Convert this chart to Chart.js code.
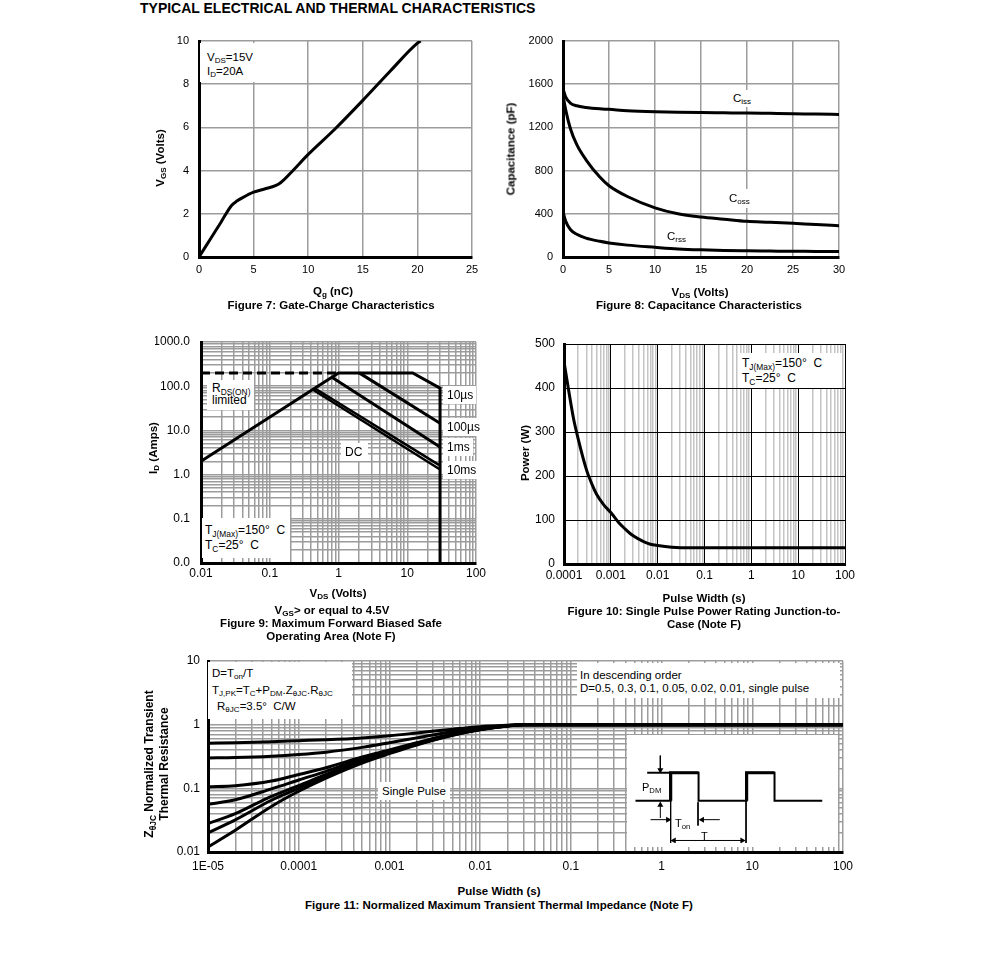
<!DOCTYPE html>
<html>
<head>
<meta charset="utf-8">
<script src="https://cdn.jsdelivr.net/npm/chart.js@4.4.1/dist/chart.umd.min.js"></script>
<style>
  body { margin: 0; background: #fff; width: 991px; height: 977px; position: relative; overflow: hidden;
         font-family: 'Liberation Sans', Arial, sans-serif; color: #000; }
  canvas { position: absolute; }
  .t { position: absolute; white-space: nowrap; transform: translate(-50%, -50%); font-weight: bold;
       font-size: 11.5px; line-height: 13px; text-align: center; }
  .rot { transform: translate(-50%, -50%) rotate(-90deg); }
  .box { position: absolute; background: #fff; white-space: nowrap; font-size: 12px; }
  sub { font-size: 0.7em; vertical-align: -0.3em; line-height: 0; }
</style>
</head>
<body>
<div style="position:absolute;left:140px;top:0;font-weight:bold;font-size:14px;line-height:16px">TYPICAL ELECTRICAL AND THERMAL CHARACTERISTICS</div>

<canvas id="fig7"></canvas>
<canvas id="fig8"></canvas>
<canvas id="fig9"></canvas>
<canvas id="fig10"></canvas>
<canvas id="fig11"></canvas>
<canvas id="inset" style="background:#fff"></canvas>

<!-- figure 7 -->
<div class="box" style="left:200px;top:43px;padding:7px 6px 4px 7px;line-height:14px;font-size:11.5px">V<sub>DS</sub>=15V<br>I<sub>D</sub>=20A</div>
<div class="t" style="left:333px;top:291px">Q<sub>g</sub> (nC)</div>
<div class="t" style="left:331px;top:305px">Figure 7: Gate-Charge Characteristics</div>
<div class="t rot" style="left:160px;top:158px">V<sub>GS</sub> (Volts)</div>

<!-- figure 8 -->
<div class="box" style="left:729px;top:90px;padding:1px 4px;line-height:15px;font-size:11.5px">C<sub>iss</sub></div>
<div class="box" style="left:725px;top:189px;padding:2px 4px;line-height:15px;font-size:11.5px">C<sub>oss</sub></div>
<div class="box" style="left:663px;top:228px;padding:1px 4px;line-height:15px;font-size:11.5px">C<sub>rss</sub></div>
<div class="t" style="left:700px;top:292px">V<sub>DS</sub> (Volts)</div>
<div class="t" style="left:699px;top:305px">Figure 8: Capacitance Characteristics</div>
<div class="t rot" style="left:511px;top:149px">Capacitance (pF)</div>

<!-- figure 9 -->
<div class="box" style="left:207px;top:380px;padding:2px 4px 4px 5px;line-height:12px">R<sub>DS(ON)</sub><br>limited</div>
<div class="box" style="left:443px;top:386px;padding:2px 3px 2px 4px;line-height:14px">10&micro;s</div>
<div class="box" style="left:443px;top:418px;padding:2px 1px 2px 4px;line-height:14px">100&micro;s</div>
<div class="box" style="left:443px;top:438px;padding:2px 3px 2px 4px;line-height:14px">1ms</div>
<div class="box" style="left:443px;top:461px;padding:2px 3px 2px 4px;line-height:14px">10ms</div>
<div class="box" style="left:341px;top:443px;padding:2px 6px 2px 4px;line-height:14px">DC</div>
<div class="box" style="left:202px;top:518px;padding:5px 5px 5px 3px;line-height:15px">T<sub>J(Max)</sub>=150&deg;&nbsp; C<br>T<sub>C</sub>=25&deg;&nbsp; C</div>
<div class="t" style="left:338px;top:593px">V<sub>DS</sub> (Volts)</div>
<div class="t" style="left:332px;top:610px">V<sub>GS</sub>&gt; or equal to 4.5V</div>
<div class="t" style="left:331px;top:630px">Figure 9: Maximum Forward Biased Safe<br>Operating Area (Note F)</div>
<div class="t rot" style="left:153px;top:448px">I<sub>D</sub> (Amps)</div>

<!-- figure 10 -->
<div class="box" style="left:738px;top:353px;width:96px;padding:3px 4px;line-height:14.5px">T<sub>J(Max)</sub>=150&deg;&nbsp; C<br>T<sub>C</sub>=25&deg;&nbsp; C</div>
<div class="t" style="left:704px;top:598px">Pulse Width (s)</div>
<div class="t" style="left:704px;top:618px">Figure 10: Single Pulse Power Rating Junction-to-<br>Case (Note F)</div>
<div class="t rot" style="left:525px;top:453px">Power (W)</div>

<!-- figure 11 -->
<div class="box" style="left:208px;top:662px;width:140px;padding:3px 0 4px 4px;line-height:16.7px;font-size:11.5px">D=T<sub>on</sub>/T<br>T<sub>J,PK</sub>=T<sub>C</sub>+P<sub>DM</sub>.Z<sub>&theta;JC</sub>.R<sub>&theta;JC</sub><br><span style="padding-left:5px">R<sub>&theta;JC</sub>=3.5&deg;&nbsp; C/W</span></div>
<div class="box" style="left:577px;top:663px;width:260px;padding:6px 0 2px 3px;line-height:13.3px;font-size:11.5px">In descending order<br>D=0.5, 0.3, 0.1, 0.05, 0.02, 0.01, single pulse</div>
<div class="box" style="left:378px;top:782px;padding:2px 4px;line-height:14px;font-size:11.5px">Single Pulse</div>
<div class="box" style="left:642px;top:780px;background:transparent;line-height:14px;font-size:11px">P<sub>DM</sub></div>
<div class="box" style="left:675px;top:816px;background:transparent;line-height:14px;font-size:11px">T<sub>on</sub></div>
<div class="box" style="left:701px;top:829px;background:transparent;line-height:14px;font-size:11px">T</div>
<div class="t" style="left:499px;top:891px">Pulse Width (s)</div>
<div class="t" style="left:499px;top:905px">Figure 11: Normalized Maximum Transient Thermal Impedance (Note F)</div>
<div class="t rot" style="left:157px;top:764px;font-size:12px;line-height:15px">Z<sub>&theta;JC</sub> Normalized Transient<br>Thermal Resistance</div>

<script>
'use strict'

/* global Chart */

// Figure 7: gate charge
const qg = [0, 1, 2, 3, 3.5, 4, 5, 6, 7, 7.5, 8.5, 10, 12.5, 15, 17.5, 20, 20.3]
const vgs = [0, 0.8, 1.6, 2.4, 2.6, 2.75, 3.0, 3.15, 3.3, 3.45, 3.95, 4.75, 5.95, 7.25, 8.6, 9.9, 10]
const fig7XTicks = [0, 5, 10, 15, 20, 25]
const fig7YTicks = [0, 2, 4, 6, 8, 10]

// Figure 8: capacitance
const vds = [0, 0.3, 0.8, 1.5, 2.5, 4, 5, 7, 10, 12.5, 15, 17.5, 20, 22.5, 25, 27.5, 30]
const ciss = [1560, 1480, 1425, 1400, 1385, 1372, 1367, 1355, 1345, 1340, 1337, 1335, 1333, 1330, 1327, 1323, 1320]
const coss = [1500, 1360, 1190, 1040, 900, 740, 660, 560, 455, 400, 370, 350, 330, 322, 312, 300, 290]
const crss = [420, 330, 255, 210, 175, 145, 130, 110, 90, 75, 66, 60, 57, 55, 53, 52, 50]
const fig8XTicks = [0, 5, 10, 15, 20, 25, 30]
const fig8YTicks = [0, 400, 800, 1200, 1600, 2000]

// Figure 9: safe operating area (V, A)
const rdsV = [0.01, 1]
const rdsI = [200, 200]
const us10V = [0.01, 1, 12, 30, 30]
const us10I = [2, 200, 200, 90, 0.01]
const us100V = [2, 30]
const us100I = [200, 14.5]
const ms1V = [0.8, 30]
const ms1I = [160, 4.2]
const ms10V = [0.45, 30]
const ms10I = [90, 1.6]
const dcV = [0.42, 30]
const dcI = [84, 1.3]
const fig9XTicks = [0.01, 0.1, 1, 10, 100]
const fig9XLabels = ['0.01', '0.1', '1', '10', '100']
const fig9YTicks = [0.01, 0.1, 1, 10, 100, 1000]
const fig9YLabels = ['0.0', '0.1', '1.0', '10.0', '100.0', '1000.0']

// Figure 10: single pulse power
const pw = [1e-4, 1.3e-4, 1.6e-4, 2e-4, 3e-4, 4e-4, 5e-4, 7e-4, 1e-3, 1.5e-3, 2e-3, 3e-3, 5e-3, 7e-3, 1e-2, 2e-2, 3e-2, 5e-2, 0.1, 1, 10, 100]
const power = [460, 385, 330, 285, 215, 180, 158, 135, 117, 93, 80, 64, 51, 45, 42, 38, 37, 37, 37, 37, 37, 37]
const fig10XTicks = [1e-4, 1e-3, 1e-2, 0.1, 1, 10, 100]
const fig10XLabels = ['0.0001', '0.001', '0.01', '0.1', '1', '10', '100']
const fig10YTicks = [0, 100, 200, 300, 400, 500]

// Figure 11: transient thermal impedance
const tp = [1e-5, 2e-5, 5e-5, 1e-4, 2e-4, 5e-4, 1e-3, 2e-3, 5e-3, 1e-2, 2e-2, 3e-2, 0.1, 1, 10, 100]
const zD50 = [0.51, 0.52, 0.54, 0.56, 0.58, 0.62, 0.67, 0.74, 0.85, 0.93, 0.98, 1, 1, 1, 1, 1]
const zD30 = [0.30, 0.305, 0.32, 0.34, 0.37, 0.44, 0.52, 0.62, 0.78, 0.89, 0.97, 1, 1, 1, 1, 1]
const zD10 = [0.106, 0.11, 0.13, 0.165, 0.21, 0.31, 0.40, 0.52, 0.72, 0.86, 0.96, 1, 1, 1, 1, 1]
const zD05 = [0.056, 0.066, 0.098, 0.135, 0.185, 0.29, 0.38, 0.51, 0.71, 0.85, 0.96, 1, 1, 1, 1, 1]
const zD02 = [0.028, 0.04, 0.075, 0.11, 0.165, 0.27, 0.37, 0.50, 0.70, 0.84, 0.955, 1, 1, 1, 1, 1]
const zD01 = [0.020, 0.032, 0.065, 0.10, 0.155, 0.26, 0.36, 0.49, 0.69, 0.84, 0.955, 1, 1, 1, 1, 1]
const zSingle = [0.012, 0.022, 0.052, 0.09, 0.145, 0.25, 0.35, 0.48, 0.68, 0.83, 0.95, 1, 1, 1, 1, 1]
const fig11XTicks = [1e-5, 1e-4, 1e-3, 1e-2, 0.1, 1, 10, 100]
const fig11XLabels = ['1E-05', '0.0001', '0.001', '0.01', '0.1', '1', '10', '100']
const fig11YTicks = [0.01, 0.1, 1, 10]
const fig11YLabels = ['0.01', '0.1', '1', '10']

// inset waveform: time in units of Ton, level in units of PDM
const waveT = [-1.26, 0, 0, 1, 1, 2.72, 2.72, 3.72, 3.72, 5.43]
const waveP = [0, 0, 1, 1, 0, 0, 1, 1, 0, 0]
const riseT = [0, 0, 1, 1, 2.72, 2.72, 3.72]
const riseP = [0, 1, 1, null, 0, 1, 1]
const refT = [-0.84, 0]
const refP = [1, 1]

Chart.defaults.font.family = "'Liberation Sans', Arial, sans-serif"
Chart.defaults.color = '#000'
Chart.defaults.animation = false

function points (xs, ys) {
  return xs.map((x, i) => ({ x, y: ys[i] }))
}

function isDecade (v) {
  const l = Math.log10(v)
  return Math.abs(l - Math.round(l)) < 1e-9
}

function logGrid (decades) {
  const out = []
  decades.forEach((d, i) => {
    if (i === decades.length - 1) {
      out.push(d)
    } else {
      for (let m = 1; m < 10; m++) out.push(+(m * d).toPrecision(6))
    }
  })
  return out
}

function labelFor (values, labels) {
  return v => {
    const i = values.findIndex(t => Math.abs(t - v) <= Math.abs(t) * 1e-6 + 1e-12)
    if (i < 0) return ''
    return labels ? labels[i] : String(values[i])
  }
}

function axis (o) {
  const grid = o.type === 'logarithmic' ? logGrid(o.ticks) : o.ticks
  const label = labelFor(o.ticks, o.labels)
  return {
    type: o.type,
    min: o.ticks[0],
    max: o.ticks[o.ticks.length - 1],
    afterBuildTicks: s => { s.ticks = grid.map(v => ({ value: v })) },
    afterFit: s => { if (s.isHorizontal()) s.height = o.h; else s.width = o.w },
    ticks: {
      autoSkip: false,
      maxRotation: 0,
      padding: o.pad,
      font: { size: o.size },
      callback: (v, i, ts) => label(ts[i].value)
    },
    grid: { drawTicks: false, color: o.color || '#9c9c9c', lineWidth: o.lw || 1.5 },
    border: { color: '#000', width: 3 }
  }
}

// plot = [left, top, right, bottom] of the chart area on the page
function makeChart (id, plot, datasets, xAxis, yAxis) {
  const m = { y: 46, x: 28, t: 26, r: 26 }
  const c = document.getElementById(id)
  const w = plot[2] - plot[0] + m.y + m.r
  const h = plot[3] - plot[1] + m.t + m.x
  c.width = w
  c.height = h
  c.style.left = (plot[0] - m.y) + 'px'
  c.style.top = (plot[1] - m.t) + 'px'
  c.style.width = w + 'px'
  c.style.height = h + 'px'
  xAxis.h = m.x
  yAxis.w = m.y
  return new Chart(c, {
    type: 'line',
    data: { datasets },
    options: {
      responsive: false,
      layout: { padding: { top: m.t, right: m.r, left: 0, bottom: 0 } },
      plugins: { legend: { display: false }, tooltip: { enabled: false } },
      elements: { point: { radius: 0 }, line: { borderColor: '#000', borderWidth: 3, fill: false } },
      scales: { x: axis(xAxis), y: axis(yAxis) }
    }
  })
}

function curve (xs, ys, extra) {
  return Object.assign({ data: points(xs, ys), tension: 0.4, cubicInterpolationMode: 'monotone' }, extra || {})
}

function straight (xs, ys, extra) {
  return Object.assign({ data: points(xs, ys), tension: 0 }, extra || {})
}

makeChart('fig7', [199, 41, 472, 257],
  [curve(qg, vgs)],
  { type: 'linear', ticks: fig7XTicks, pad: 6, size: 11 },
  { type: 'linear', ticks: fig7YTicks, pad: 10, size: 11 })

makeChart('fig8', [563, 41, 839, 257],
  [curve(vds, ciss), curve(vds, coss), curve(vds, crss)],
  { type: 'linear', ticks: fig8XTicks, pad: 6, size: 11 },
  { type: 'linear', ticks: fig8YTicks, pad: 10, size: 11 })

makeChart('fig9', [201, 342, 476, 563],
  [
    straight(rdsV, rdsI, { borderDash: [9, 5] }),
    straight(us10V, us10I),
    straight(us100V, us100I),
    straight(ms1V, ms1I),
    straight(ms10V, ms10I, { borderWidth: 2.5 }),
    straight(dcV, dcI, { borderWidth: 2.5 })
  ],
  { type: 'logarithmic', ticks: fig9XTicks, labels: fig9XLabels, pad: 3, size: 12 },
  { type: 'logarithmic', ticks: fig9YTicks, labels: fig9YLabels, pad: 11, size: 12 })

makeChart('fig10', [564, 344, 845, 564],
  [curve(pw, power)],
  {
    type: 'logarithmic', ticks: fig10XTicks, labels: fig10XLabels, pad: 4, size: 12,
    color: ctx => isDecade(ctx.tick.value) ? '#000' : '#c4c4c4',
    lw: ctx => isDecade(ctx.tick.value) ? 1 : 1.5
  },
  { type: 'linear', ticks: fig10YTicks, pad: 9, size: 12, color: '#000', lw: 1 })

makeChart('fig11', [208, 661, 843, 852],
  [zD50, zD30, zD10, zD05, zD02, zD01, zSingle].map(z => curve(tp, z)),
  { type: 'logarithmic', ticks: fig11XTicks, labels: fig11XLabels, pad: 7, size: 12 },
  { type: 'logarithmic', ticks: fig11YTicks, labels: fig11YLabels, pad: 8, size: 12 })

// inset sketch of the pulse train
function arrow (xs, ys, rot) {
  return {
    data: points(xs, ys),
    borderWidth: 1,
    pointRadius: rot.map(r => r === null ? 0 : 3.5),
    pointStyle: 'triangle',
    rotation: rot.map(r => r || 0),
    pointBackgroundColor: '#000',
    pointBorderColor: '#000',
    pointBorderWidth: 0
  }
}

const insetCanvas = document.getElementById('inset')
insetCanvas.width = 211
insetCanvas.height = 112
insetCanvas.style.left = '627px'
insetCanvas.style.top = '735px'
insetCanvas.style.width = '211px'
insetCanvas.style.height = '112px'

new Chart(insetCanvas, {
  type: 'line',
  data: {
    datasets: [
      straight(waveT, waveP, { borderWidth: 2 }),
      straight(riseT, riseP, { borderWidth: 3.2 }),
      straight(refT, refP, { borderWidth: 2 }),
      straight([0, 0], [0, -1.7], { borderWidth: 1 }),
      straight([0.98, 0.98], [-0.05, -0.88], { borderWidth: 1 }),
      straight([2.7, 2.7], [0, -1.7], { borderWidth: 1 }),
      arrow([-0.37, -0.37], [1.61, 1.1], [null, 180]),
      arrow([-0.37, -0.37], [-0.61, -0.15], [null, 0]),
      arrow([-0.72, -0.1], [-0.67, -0.67], [null, 90]),
      arrow([1.76, 1.13], [-0.67, -0.67], [null, 270]),
      arrow([0.12, 2.56], [-1.41, -1.41], [270, 90])
    ]
  },
  options: {
    responsive: false,
    layout: { padding: 0 },
    plugins: { legend: { display: false }, tooltip: { enabled: false } },
    elements: { point: { radius: 0 }, line: { borderColor: '#000', fill: false } },
    scales: {
      x: { type: 'linear', display: false, min: -1.42, max: 5.85 },
      y: { type: 'linear', display: false, min: -1.5, max: 2.2 }
    }
  }
})
</script>
</body>
</html>
